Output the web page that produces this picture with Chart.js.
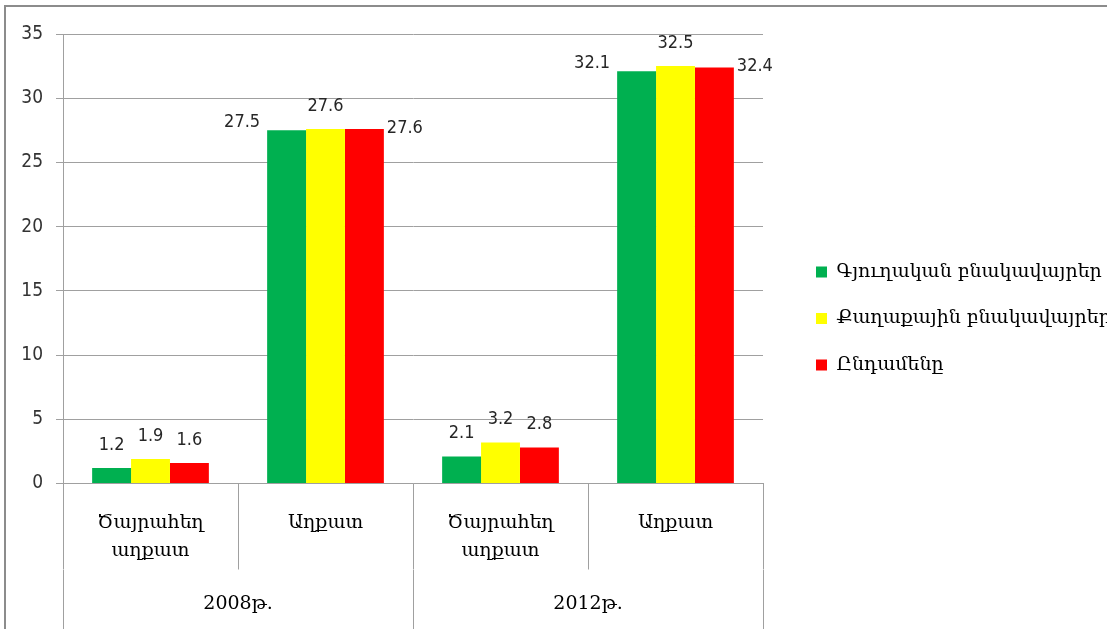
<!DOCTYPE html>
<html>
<head>
<meta charset="utf-8">
<script src="https://cdn.jsdelivr.net/npm/chart.js@4"></script>
<style>
    html, body { margin: 0; padding: 0; background: #fff; overflow: hidden; }
    #frame { position: absolute; left: 4px; top: 5px; width: 1200px; height: 660px;
             border-top: 2px solid #8c8c8c; border-left: 2px solid #8c8c8c; }
    canvas { display: block; }
</style>
</head>
<body>
<div id="frame"><canvas id="povertyChart" width="1200" height="660"></canvas></div>
<script>
// categories (two level x axis)
var subCategories = [['Ծայրահեղ', 'աղքատ'], 'Աղքատ', ['Ծայրահեղ', 'աղքատ'], 'Աղքատ'];
var years = ['2008թ.', '2012թ.'];
// series
var seriesNames = ['Գյուղական բնակավայրեր', 'Քաղաքային բնակավայրեր', 'Ընդամենը'];
var ruralValues = [1.2, 27.5, 2.1, 32.1];
var urbanValues = [1.9, 27.6, 3.2, 32.5];
var totalValues = [1.6, 27.6, 2.8, 32.4];
var seriesColors = ['#00B050', '#FFFF00', '#FF0000'];
// y axis
var yMin = 0, yMax = 35, yStep = 5;

var gridColor = '#a0a0a0';
var numFont = "'DejaVu Sans Condensed', 'Liberation Sans Narrow', sans-serif";
var armFont = "'DejaVu Serif', serif";
var legendBoxWidth = 340;

// value labels, placed roughly like the excel original
var valueLabels = {
    id: 'valueLabels',
    afterDatasetsDraw: function (chart) {
        var ctx = chart.ctx;
        ctx.save();
        ctx.font = '18px ' + numFont;
        ctx.fillStyle = '#262626';
        ctx.textBaseline = 'middle';
        chart.data.datasets.forEach(function (ds, di) {
            var meta = chart.getDatasetMeta(di);
            meta.data.forEach(function (bar, i) {
                var v = ds.data[i];
                var txt = v.toFixed(1);
                var x = bar.x, y = bar.y - 23;
                ctx.textAlign = 'center';
                if (v > 20 && di === 0) {
                    ctx.textAlign = 'right';
                    x = bar.x - bar.width / 2 - 7;
                    y = bar.y - 8;
                } else if (v > 20 && di === 2) {
                    ctx.textAlign = 'left';
                    x = bar.x + bar.width / 2 + 3;
                    y = bar.y - 1;
                }
                ctx.fillText(txt, x, y);
            });
        });
        ctx.restore();
    }
};

var chartData = {
    labels: subCategories,
    datasets: [{
        label: seriesNames[0],
        data: ruralValues,
        backgroundColor: seriesColors[0],
        borderWidth: 0
    }, {
        label: seriesNames[1],
        data: urbanValues,
        backgroundColor: seriesColors[1],
        borderWidth: 0
    }, {
        label: seriesNames[2],
        data: totalValues,
        backgroundColor: seriesColors[2],
        borderWidth: 0
    }]
};

var chart = new Chart(document.getElementById('povertyChart'), {
    type: 'bar',
    data: chartData,
    plugins: [valueLabels],
    options: {
        responsive: false,
        animation: false,
        devicePixelRatio: 1,
        categoryPercentage: 0.667,
        barPercentage: 1,
        layout: {
            padding: { left: 0, top: 0, right: 77.5, bottom: 37 }
        },
        plugins: {
            tooltip: { enabled: false },
            title: {
                display: true,
                text: ' ',
                font: { size: 1, lineHeight: 1 },
                padding: { top: 26, bottom: 0 }
            },
            legend: {
                position: 'right',
                labels: {
                    boxWidth: 11,
                    boxHeight: 11,
                    padding: 27.5,
                    color: '#000',
                    font: { family: armFont, size: 19 }
                }
            }
        },
        scales: {
            x: {
                grid: { drawOnChartArea: false, tickLength: 86, color: gridColor },
                border: { color: gridColor },
                ticks: {
                    padding: -61,
                    color: '#000',
                    maxRotation: 0,
                    autoSkip: false,
                    font: { family: armFont, size: 19, lineHeight: 1.5 }
                },
                afterFit: function (s) { s.height = 86; }
            },
            x2: {
                type: 'category',
                labels: years,
                position: 'bottom',
                offset: true,
                weight: 1,
                grid: { drawOnChartArea: false, tickLength: 200, color: gridColor },
                border: { display: false },
                ticks: {
                    padding: -179,
                    color: '#000',
                    maxRotation: 0,
                    font: { family: armFont, size: 19, lineHeight: 1.47 }
                },
                afterFit: function (s) { s.height = 60.5; }
            },
            y: {
                min: yMin,
                max: yMax,
                ticks: {
                    stepSize: yStep,
                    padding: 13,
                    color: '#333',
                    font: { family: numFont, size: 19 }
                },
                grid: { color: gridColor, tickLength: 7 },
                border: { color: gridColor },
                afterFit: function (s) { s.width = 57; }
            },
            yGap: {
                type: 'linear',
                position: 'right',
                grid: { display: false },
                ticks: { display: false },
                border: { display: false },
                afterFit: function (s) { s.width = 25.5; }
            }
        }
    }
});

// the legend runs off the right edge like in the original, so give it a fixed wide box
var legendFit = chart.legend.fit;
chart.legend.fit = function () {
    legendFit.call(this);
    this.width = legendBoxWidth;
};
chart.update();
</script>
</body>
</html>
